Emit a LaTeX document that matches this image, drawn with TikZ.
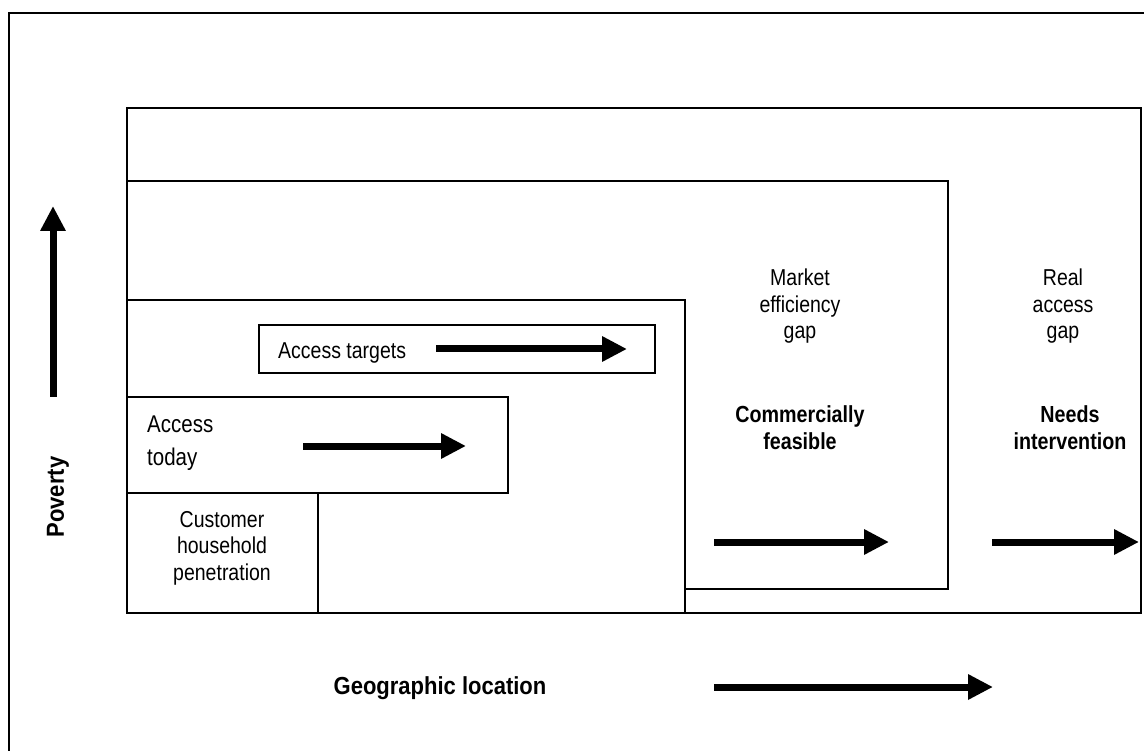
\documentclass[tikz,border=0pt]{standalone}
\usepackage{graphicx}
\usepackage{fontspec}
\setmainfont{Liberation Sans}
\usetikzlibrary{arrows.meta}
\newcommand{\tallc}[1]{\scalebox{1}[1.18]{\begin{tabular}{@{}c@{}}#1\end{tabular}}}
\newcommand{\talll}[1]{\scalebox{1}[1.18]{\begin{tabular}{@{}l@{}}#1\end{tabular}}}
\begin{document}
\begin{tikzpicture}[x=1pt,y=-1pt,
  outer/.style={line width=2pt},
  frame/.style={line width=1.5pt},
  bigarrow/.style={line width=7pt,-{Triangle[length=25pt,width=24pt]}},
  lbl/.style={font=\fontsize{19.5}{22.5}\selectfont,inner sep=0pt},
  blbl/.style={font=\fontsize{19.7}{22.9}\selectfont\bfseries,inner sep=0pt},
  axis/.style={font=\fontsize{22}{25}\selectfont\bfseries,inner sep=0pt}]
\useasboundingbox (0,0) rectangle (1144,751);
% outer frame (only left and top visible)
\draw[outer] (9,751) -- (9,13) -- (1144,13);
% boxes
\draw[frame] (127,108) rectangle (1141,613);
\draw[frame] (127,181) rectangle (948,589);
\draw[frame, fill=white] (127,300) rectangle (685,613);
\draw[frame] (259,325) rectangle (655,373);
\draw[frame] (127,397) rectangle (508,493);
\draw[frame] (127,493) rectangle (318,613);
% labels
\node[lbl] (meg) at (800,307) {\tallc{Market\\efficiency\\gap}};
\node[lbl] (rag) at (1063,307) {\tallc{Real\\access\\gap}};
\node[blbl] (cf) at (800,431) {\tallc{Commercially\\feasible}};
\node[font=\fontsize{20.5}{28}\selectfont,inner sep=0pt,anchor=west] (at) at (147,442) {\talll{Access\\today}};
\node[lbl,anchor=west] (atg) at (278,353) {\tallc{Access targets}};
\node[blbl] (ni) at (1070,431) {\tallc{Needs\\intervention}};
\node[lbl] (chp) at (222,548.5) {\tallc{Customer\\household\\penetration}};
\node[axis] (geo) at (440,688) {\scalebox{1}[1.12]{Geographic location}};
\node[axis,rotate=90] (pov) at (58,497) {\scalebox{1}[1.12]{Poverty}};
% arrow coordinates
\coordinate (a1s) at (436,349); \coordinate (a1e) at (627,349);
\coordinate (a2s) at (303,446); \coordinate (a2e) at (466,446);
\coordinate (a3s) at (714,542); \coordinate (a3e) at (889,542);
\coordinate (a4s) at (992,542); \coordinate (a4e) at (1139,542);
\coordinate (a5s) at (714,687); \coordinate (a5e) at (993,687);
\coordinate (a6s) at (53,397);  \coordinate (a6e) at (53,206);
\draw[bigarrow] (a1s) -- (a1e);
\draw[bigarrow] (a2s) -- (a2e);
\draw[bigarrow] (a3s) -- (a3e);
\draw[bigarrow] (a4s) -- (a4e);
\draw[bigarrow] (a5s) -- (a5e);
\draw[bigarrow] (a6s) -- (a6e);
\end{tikzpicture}
\end{document}
